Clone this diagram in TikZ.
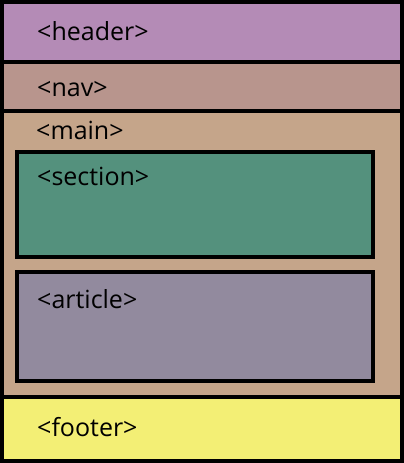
\documentclass[tikz,border=0pt]{standalone}
\usepackage{fontspec}
\setmainfont{Open Sans}
\definecolor{cheader}{RGB}{180,139,182}
\definecolor{cnav}{RGB}{184,149,141}
\definecolor{cmain}{RGB}{197,165,138}
\definecolor{csection}{RGB}{84,145,125}
\definecolor{carticle}{RGB}{146,138,158}
\definecolor{cfooter}{RGB}{243,239,117}
\tikzset{
  box/.style={draw=black,line width=4pt},
  lbl/.style={anchor=base west,inner sep=0pt,font=\fontsize{25}{28}\selectfont,text=black}
}
\begin{document}
\begin{tikzpicture}[x=1pt,y=-1pt]
\useasboundingbox (0,0) rectangle (404,463);
\fill[cheader] (2,2) rectangle (402,62);
\fill[cnav] (2,62) rectangle (402,111);
\fill[cmain] (2,111) rectangle (402,397);
\fill[cfooter] (2,397) rectangle (402,461);
\draw[line width=4pt] (0,62) -- (404,62);
\draw[line width=4pt] (0,111) -- (404,111);
\draw[line width=4pt] (0,397) -- (404,397);
\draw[box] (2,2) rectangle (402,461);
\draw[box,fill=csection] (17,152) rectangle (373,257);
\draw[box,fill=carticle] (17,272) rectangle (373,381);
\node[lbl] (header) at (37,40) {<header>};
\node[lbl] (nav) at (37,96) {<nav>};
\node[lbl] (main) at (36,139) {<main>};
\node[lbl] (section) at (37,185) {<section>};
\node[lbl] (article) at (37,308) {<article>};
\node[lbl] (footer) at (37,436) {<footer>};
\end{tikzpicture}
\end{document}
